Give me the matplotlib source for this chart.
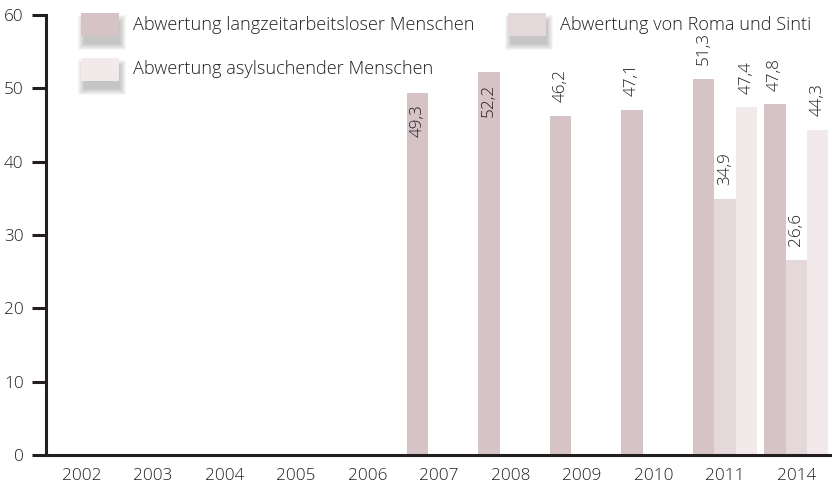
import matplotlib
matplotlib.use("Agg")
import matplotlib.pyplot as plt
from matplotlib.patches import Rectangle
import numpy as np

plt.rcParams['font.family'] = ['Open Sans', 'DejaVu Sans']
plt.rcParams['font.weight'] = 'light'

years = ["2002", "2003", "2004", "2005", "2006", "2007", "2008", "2009", "2010", "2011", "2014"]
langzeit = [np.nan, np.nan, np.nan, np.nan, np.nan, 49.3, 52.2, 46.2, 47.1, 51.3, 47.8]
roma = [np.nan] * 9 + [34.9, 26.6]
asyl = [np.nan] * 9 + [47.4, 44.3]
series_names = ["Abwertung langzeitarbeitsloser Menschen",
                "Abwertung von Roma und Sinti",
                "Abwertung asylsuchender Menschen"]
colors = ["#d6c3c6", "#e4d8da", "#f1e9ea"]
inside_label_years = ["2007", "2008"]

W, H = 832, 496
fig = plt.figure(figsize=(W / 100, H / 100), dpi=100)
ax = fig.add_axes([46 / W, 41 / H, (W - 46) / W, 440 / H])

x = np.arange(len(years))
bw = 0.3
ink = "#231f20"
fs = 12.3
for k, (vals, col) in enumerate(zip([langzeit, roma, asyl], colors)):
    xs = x + (k - 1) * bw
    ax.bar(xs, vals, width=bw, color=col, zorder=2)
    for xi, v, yr in zip(xs, vals, years):
        if np.isnan(v):
            continue
        lab = f"{v:.1f}".replace(".", ",")
        if yr in inside_label_years:
            ax.annotate(lab, (xi, v), xytext=(0, -8), textcoords="offset points",
                        rotation=90, ha="center", va="top",
                        fontsize=fs, color=ink, zorder=3)
        else:
            ax.annotate(lab, (xi, v), xytext=(0, 10), textcoords="offset points",
                        rotation=90, ha="center", va="bottom",
                        fontsize=fs, color=ink, zorder=3)

ax.set_xlim(-0.5, len(years) - 0.5)
ax.set_ylim(0, 60)
ax.set_yticks(range(0, 61, 10))
ax.set_xticks(x)
ax.set_xticklabels(years)
for s in ["top", "right"]:
    ax.spines[s].set_visible(False)
for s in ["left", "bottom"]:
    ax.spines[s].set_linewidth(2.2)
    ax.spines[s].set_color(ink)
ax.tick_params(axis="y", length=10, width=2.2, color=ink, labelsize=fs, labelcolor=ink, pad=6)
ax.tick_params(axis="x", length=0, labelsize=fs, labelcolor=ink, pad=9)

# legend drawn manually with soft drop-shadowed swatches
legend_items = [(81, 13, series_names[0], colors[0]),
                (508, 13, series_names[1], colors[1]),
                (81, 58, series_names[2], colors[2])]
for lx, ly, name, col in legend_items:
    sw, sh = 38, 23
    n = 7
    for i in range(n):
        grow = n - 1 - i
        shadow = Rectangle(((lx + 3 - grow) / W, (H - ly - sh - 8 - grow) / H),
                           (sw - 2 + 2 * grow) / W, (sh + 2 * grow) / H,
                           transform=fig.transFigure, facecolor="#1a1a1a",
                           alpha=0.04, edgecolor="none", zorder=4)
        fig.add_artist(shadow)
    rect = Rectangle((lx / W, (H - ly - sh) / H), sw / W, sh / H,
                     transform=fig.transFigure, facecolor=col, edgecolor="none", zorder=5)
    fig.add_artist(rect)
    fig.text((lx + 52) / W, (H - ly - sh / 2) / H, name, ha="left", va="center",
             fontsize=13.1, color=ink, zorder=6)

fig.savefig("out.png", dpi=100, facecolor="white")
